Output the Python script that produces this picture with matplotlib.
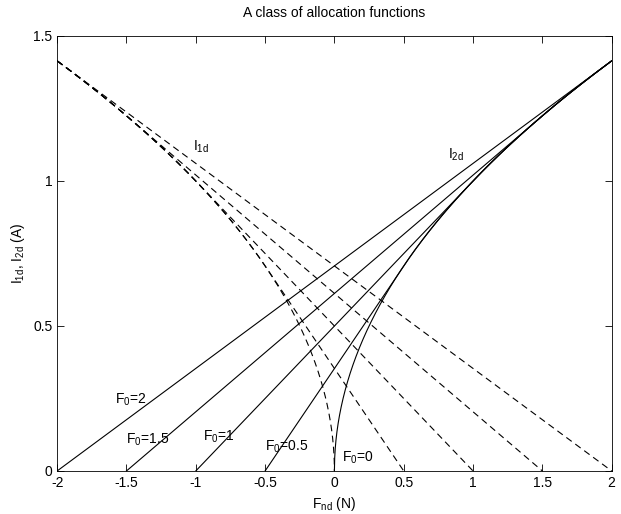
import numpy as np
import matplotlib
matplotlib.use('Agg')
import matplotlib.pyplot as plt

plt.rcParams['font.family'] = ['Liberation Sans', 'DejaVu Sans']
plt.rcParams['mathtext.fontset'] = 'custom'
plt.rcParams['mathtext.rm'] = 'Liberation Sans'
plt.rcParams['mathtext.it'] = 'Liberation Sans'

# bias forces of the allocation family
F0_values = [0, 0.5, 1, 1.5, 2]
F0_labels = ['F$_0$=0', 'F$_0$=0.5', 'F$_0$=1', 'F$_0$=1.5', 'F$_0$=2']
label_x = [0.054, -0.50, -0.95, -1.50, -1.58]
label_y = [0.045, 0.083, 0.117, 0.107, 0.245]
x_ticks = [-2, -1.5, -1, -0.5, 0, 0.5, 1, 1.5, 2]
y_ticks = [0, 0.5, 1, 1.5]


def allocation(F, F0):
    # I2^2 - I1^2 = F, linear in the bias region |F| < F0
    I2 = np.where(F >= F0, np.sqrt(np.abs(F)), 0.0)
    I1 = np.where(F <= -F0, np.sqrt(np.abs(F)), 0.0)
    if F0 > 0:
        mid = np.abs(F) < F0
        I2 = np.where(mid, (F + F0) / (2 * np.sqrt(F0)), I2)
        I1 = np.where(mid, (F0 - F) / (2 * np.sqrt(F0)), I1)
    return I1, I2


F = np.linspace(-2, 2, 4001)

fig = plt.figure(figsize=(6.21, 5.14), dpi=100)
ax = fig.add_axes([0.092, 0.0837, 0.893, 0.8463])

for F0 in F0_values:
    I1, I2 = allocation(F, F0)
    # zero parts sit on the axis line; leave them out
    I1 = np.where(F <= F0 + 1e-9, I1, np.nan)
    I2 = np.where(F >= -F0 - 1e-9, I2, np.nan)
    ax.plot(F, I2, color='black', lw=0.8)
    ax.plot(F, I1, color='black', lw=0.8, dashes=(6, 4))

for lx, ly, lab in zip(label_x, label_y, F0_labels):
    ax.text(lx, ly, lab, fontsize=10, va='center', ha='left')
ax.text(-1.02, 1.117, 'I$_{1d}$', fontsize=10, va='center', ha='left')
ax.text(0.82, 1.09, 'I$_{2d}$', fontsize=10, va='center', ha='left')

ax.set_xlim(-2, 2)
ax.set_ylim(0, 1.5)
ax.set_xticks(x_ticks)
ax.set_xticklabels(['-2', '-1.5', '-1', '-0.5', '0', '0.5', '1', '1.5', '2'])
ax.set_yticks(y_ticks)
ax.set_yticklabels(['0', '0.5', '1', '1.5'])
ax.tick_params(direction='in', top=True, right=True, labelsize=10, length=5, width=0.6)
for s in ax.spines.values():
    s.set_linewidth(0.6)

ax.set_title('A class of allocation functions', fontsize=10, pad=14)
ax.set_xlabel('F$_{nd}$ (N)', fontsize=10)
ax.set_ylabel("I$_{1d}$, I$_{2d}$ (A)", fontsize=10)

fig.savefig('out.png', dpi=100)
